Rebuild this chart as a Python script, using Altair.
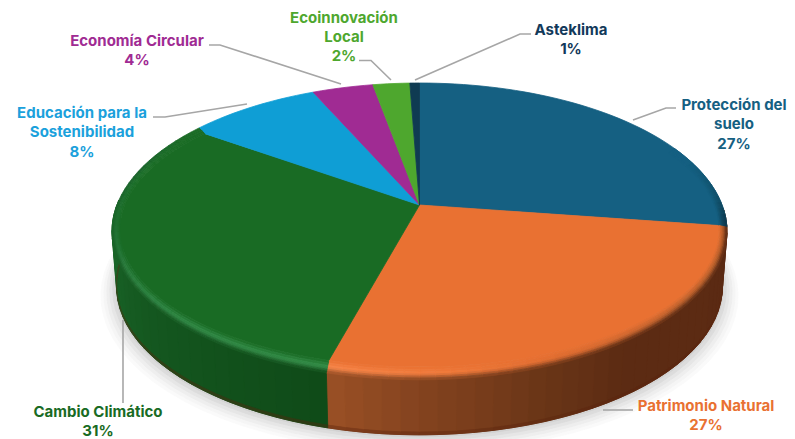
import math
import altair as alt
import pandas as pd

# ---- chart values ----
categories = ["Protección del suelo", "Patrimonio Natural", "Cambio Climático",
              "Educación para la Sostenibilidad", "Economía Circular",
              "Ecoinnovación Local", "Asteklima"]
shares = [27.4, 26.7, 31.0, 8.2, 3.8, 2.3, 0.6]
face_colors = ["#156082", "#E97132", "#196B24", "#0F9ED5", "#A02B93", "#4EA72E", "#0F3B52"]
text_colors = ["#156082", "#E97132", "#196B24", "#1BA1DC", "#A02B93", "#4EA72E", "#12395A"]

# ---- layout and styling (image-pixel frame) ----
CX, CY, A, B, P = 419.5, 205.0, 302.6, 143.7, 0.178
DEPTH, LOWER_W = 55.0, 0.985
RIM_U, RIM_V = 0.026, 0.074
FONT, FONT_SIZE, LINE_H = "Inter", 15.0, 19.4

label_lines = [["Protección del", "suelo"], ["Patrimonio Natural"], ["Cambio Climático"],
               ["Educación para la", "Sostenibilidad"], ["Economía Circular"],
               ["Ecoinnovación", "Local"], ["Asteklima"]]
label_anchor = [(734, 105), (706, 406), (98, 412), (82, 113), (137, 41), (344, 17.5), (571, 30)]
leaders = [[(633, 120), (666, 108), (676, 108)],
           [(603, 410), (633, 410)],
           [(123, 320), (123, 403)],
           [(153, 117), (165, 117), (247, 104)],
           [(209, 45), (220, 45), (341, 84)],
           [(359, 60.5), (371, 60.5), (391, 80)],
           [(415, 80), (520, 34), (531, 34)]]

wall_stops = [(90, "#5b2a13"), (145, "#5c2b13"), (160, "#6a3517"), (180, "#84431f"),
              (194.3, "#9a5025"), (194.31, "#0f4a18"), (230, "#14561f"), (262, "#1a6528"),
              (285, "#1a6528")]
high_stops = [(0, "#156082"), (70, "#156082"), (88, "#125570"), (99.5, "#0f4058"),
              (99.6, "#b05a28"), (130, "#b85e2a"), (160, "#e06c30"), (175, "#f07a3a"),
              (194.3, "#f8864a"), (194.31, "#358f49"), (230, "#2f8845"), (250, "#287a3c"),
              (265, "#1f7030"), (285, "#1c6e2a"), (305, "#196B24")]
edge_stops = [(0, "#156082"), (70, "#156082"), (88, "#104c66"), (99.5, "#0c3246"),
              (99.6, "#5b2a13"), (145, "#5c2b13"), (160, "#6a3517"), (180, "#84431f"),
              (194.3, "#9a5025"), (194.31, "#0f4a18"), (230, "#14561f"), (262, "#1a6528"),
              (285, "#17602a"), (305, "#196B24")]
shadow_steps = [(16, "#fafafa"), (13, "#f5f5f5"), (10, "#eeeeee"), (7, "#e6e6e6"), (4, "#dcdcdc"), (1, "#d2d2d2")]


def rgb(h):
    return tuple(int(h[i:i + 2], 16) for i in (1, 3, 5))


def mix(c1, c2, t):
    a, b = rgb(c1), rgb(c2)
    return "#%02x%02x%02x" % tuple(round(a[i] + (b[i] - a[i]) * t) for i in range(3))


def stop_color(stops, th):
    if th <= stops[0][0]:
        return stops[0][1]
    for (t0, c0), (t1, c1) in zip(stops, stops[1:]):
        if th <= t1:
            return mix(c0, c1, (th - t0) / (t1 - t0))
    return stops[-1][1]


def plane(th, ru=1.0, rv=1.0, dy=0.0, wid=1.0):
    r = math.radians(th)
    u, v = math.sin(r) * ru, math.cos(r) * rv
    s = 1 / (1 + P * v)
    return CX + A * wid * u * s, CY + dy - B * v * s


def rim_point(th, b):
    """b = 0 on the inner side of the bevel, b = 1 on the outer edge of the disc."""
    x, y = plane(th)
    return CX + (x - CX) * (1 - RIM_U * (1 - b)), CY + (y - CY) * (1 - RIM_V * (1 - b))


rows, pid = [], 0


def poly(points, color):
    global pid
    for i, (x, y) in enumerate(points):
        rows.append({"x": x, "y": y, "i": i, "pid": pid, "c": color})
    pid += 1


def angles(a0, a1, step):
    n = max(1, math.ceil((a1 - a0) / step))
    return [a0 + (a1 - a0) * k / n for k in range(n + 1)]


def wall_point(t, k):
    x0, y0 = plane(t)
    x1, _ = plane(t, dy=DEPTH, wid=LOWER_W)
    return x0 + (x1 - x0) * k, y0 + DEPTH * k


# soft shadow below the disc
for grow, col in shadow_steps:
    poly([plane(t, dy=DEPTH + 1 + grow * 0.35, wid=LOWER_W * (1 + grow / 320.0), rv=1 + grow / 320.0)
          for t in angles(0, 360, 4)], col)

# totals for the slice edges
cum = [0.0]
for s in shares:
    cum.append(cum[-1] + s)
edges = [c * 3.6 * 100 / cum[-1] for c in cum]

# side wall: solid underlay per slice, then shaded strips
for a0, a1, col in [(92, edges[2], "#6a3517"), (edges[2], 272, "#14561f")]:
    ths = angles(a0, a1, 2)
    poly([wall_point(t, 0) for t in ths] + [wall_point(t, 1) for t in reversed(ths)], col)
for a0, a1 in [(92, edges[2]), (edges[2], 272)]:
    ts = angles(a0, a1, 3)
    for t0, t1 in zip(ts, ts[1:]):
        col = stop_color(wall_stops, (t0 + t1) / 2)
        poly([wall_point(t0, 0), wall_point(t1, 0), wall_point(t1, 0.95), wall_point(t0, 0.95)], col)
        poly([wall_point(t0, 0.95), wall_point(t1, 0.95), wall_point(t1, 1), wall_point(t0, 1)],
             mix(col, "#5a220c", 0.4))

# top faces and bevelled rim
for k, col in enumerate(face_colors):
    a0, a1 = edges[k], edges[k + 1]
    if k in (1, 2):
        outline = [rim_point(t, 0) for t in angles(a0, a1, 2)]
    else:
        outline = [plane(t) for t in angles(a0, a1, 2)]
        if k == 0:
            outline.append(rim_point(a1, 0))
        if k == 3:
            outline.insert(0, rim_point(a0, 0))
    poly([(CX, CY)] + outline, col)

band_t = [0, 0.2, 0.4, 0.55, 0.7, 0.85, 1.0]
for k, col in enumerate(face_colors):
    a0, a1 = max(edges[k], 65), edges[k + 1] if k == 2 else min(edges[k + 1], 305)
    if a1 <= a0:
        continue
    ths = angles(a0, a1, 2.5)
    for t0, t1 in zip(ths, ths[1:]):
        m = (t0 + t1) / 2
        hi, ed = stop_color(high_stops, m), stop_color(edge_stops, m)
        for b0, b1 in zip(band_t, band_t[1:]):
            c = (b0 + b1) / 2
            shade = mix(col, hi, c / 0.55) if c < 0.55 else mix(hi, ed, (c - 0.55) / 0.45)
            poly([rim_point(t0, b0), rim_point(t1, b0), rim_point(t1, b1), rim_point(t0, b1)], shade)

polys = pd.DataFrame(rows)

x_enc = alt.X("x:Q", scale=alt.Scale(domain=[8, 787], nice=False, zero=False), axis=None)
y_enc = alt.Y("y:Q", scale=alt.Scale(domain=[439, 8], nice=False, zero=False), axis=None)

shapes = alt.Chart(polys).mark_line(interpolate="linear-closed", strokeWidth=0.8).encode(
    x=x_enc, y=y_enc,
    detail="pid:N",
    order="i:Q",
    fill=alt.Fill("c:N", scale=None, legend=None),
    stroke=alt.Stroke("c:N", scale=None, legend=None),
)

lead_rows = []
for n, pts in enumerate(leaders):
    for i, (x, y) in enumerate(pts):
        lead_rows.append({"x": x, "y": y, "i": i, "n": n})
lead = alt.Chart(pd.DataFrame(lead_rows)).mark_line(color="#A6A6A6", strokeWidth=1.6).encode(
    x=x_enc, y=y_enc, detail="n:N", order="i:Q")

text_rows = []
for k, lines in enumerate(label_lines):
    ax, ay = label_anchor[k]
    for j, line in enumerate(lines + [f"{round(shares[k])}%"]):
        text_rows.append({"x": ax, "y": ay + j * LINE_H, "t": line, "c": text_colors[k]})
labels = alt.Chart(pd.DataFrame(text_rows)).mark_text(
    font=FONT, fontSize=FONT_SIZE, fontWeight="bold", align="center", baseline="middle"
).encode(x=x_enc, y=y_enc, text="t:N", color=alt.Color("c:N", scale=None, legend=None))

chart = alt.layer(shapes, lead, labels).properties(
    width=779, height=431, padding=0, background="white"
).configure_view(stroke=None)

chart.save("out.html", embed_options={"renderer": "svg", "actions": False})
